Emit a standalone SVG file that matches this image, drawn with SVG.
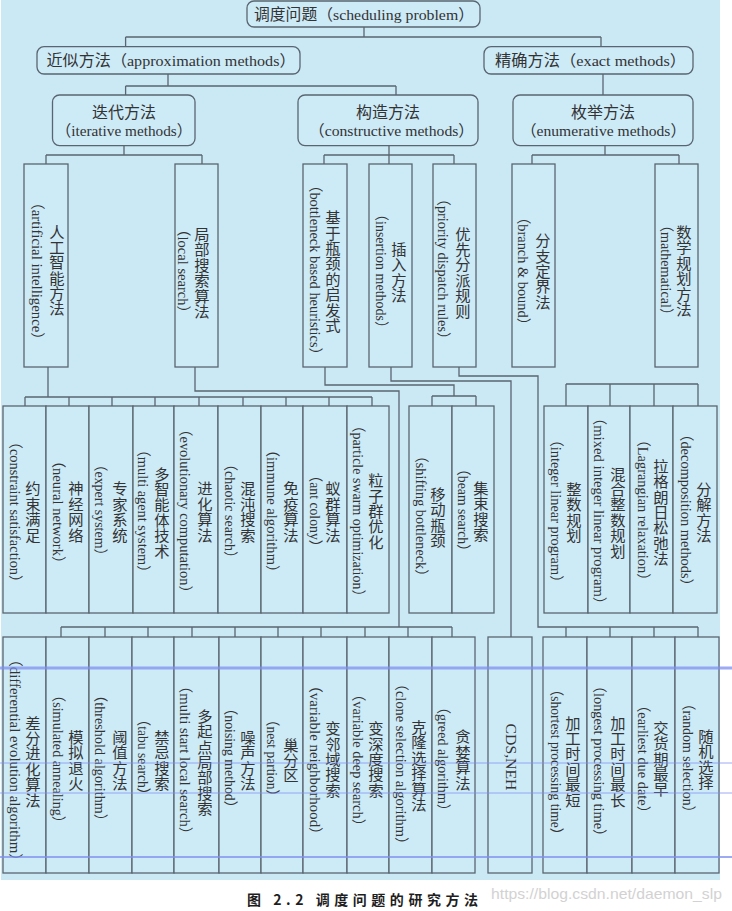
<svg xmlns="http://www.w3.org/2000/svg" width="732" height="911" viewBox="0 0 732 911">
<style>
.bg{fill:#cbe8f5}
.b{fill:#cdeaf7;stroke:#5a666f;stroke-width:1.3}
.c{fill:none;stroke:#5a666f;stroke-width:1.3}
.zh{font-family:"Noto Sans CJK SC",sans-serif;font-size:15.3px;fill:#333;text-anchor:middle;dominant-baseline:central}
.en{font-family:"Liberation Serif","Noto Sans CJK SC",serif;font-size:14.5px;fill:#333;text-anchor:middle;dominant-baseline:central}
.h{font-family:"Liberation Serif","Noto Sans CJK SC",serif;font-size:15.5px;fill:#333;dominant-baseline:central}
.hm{text-anchor:middle}
.art{stroke:#7d8ff0;fill:none;opacity:0.75}
</style>
<rect class="bg" x="1" y="0" width="719" height="880"/>

<g id="connectors">
<path class="c" d="M364,27V37M125.6,37H601M125.6,37V46.7M601,37V46.7"/>
<path class="c" d="M168,74V86M125.6,86H396M125.6,86V95M396,86V95"/>
<path class="c" d="M603,74V95"/>
<path class="c" d="M124,145.6V155M46,155H202M46,155V164M202,155V164"/>
<path class="c" d="M389,145.6V155M324,155H454M324,155V164M389,155V164M454,155V164"/>
<path class="c" d="M605,145.6V155M532,155H679M532,155V164M679,155V164"/>
<path class="c" d="M48,367V397M25,397H372M25,397V406M69,397V406M112,397V406M155,397V406M199,397V406M243,397V406M286,397V406M329,397V406M372,397V406"/>
<path class="c" d="M195,367V391H399V627"/>
<path class="c" d="M325,367V385H454V396M432,396H476M432,396V406M476,396V406"/>
<path class="c" d="M391,367V381H511V637"/>
<path class="c" d="M459,367V376H538V627H698M566,627V637M610,627V637M654,627V637M698,627V637"/>
<path class="c" d="M566,384H698M566,384V406M610,384V406M654,384V406M698,384V406"/>
<path class="c" d="M61,627H452M61,627V637M105,627V637M148,627V637M192,627V637M235,627V637M278,627V637M321,627V637M365,627V637M408,627V637M452,627V637"/>
</g>

<g id="n-root"><rect class="b" x="247" y="1" width="233" height="26" rx="7"/><text class="h" x="254" y="14" textLength="220" lengthAdjust="spacingAndGlyphs">调度问题（scheduling problem）</text></g>
<g id="n-approx"><rect class="b" x="37" y="46.7" width="263" height="27.3" rx="7"/><text class="h" x="46.5" y="60.5" textLength="249" lengthAdjust="spacingAndGlyphs">近似方法（approximation methods）</text></g>
<g id="n-exact"><rect class="b" x="484" y="46.7" width="209" height="27.3" rx="7"/><text class="h" x="495" y="60.5" textLength="191" lengthAdjust="spacingAndGlyphs">精确方法（exact methods）</text></g>
<g id="n-iter"><rect class="b" x="52.5" y="95" width="142.5" height="50.6" rx="7"/><text class="h hm" x="124" y="112" textLength="64" lengthAdjust="spacingAndGlyphs">迭代方法</text><text class="h" x="56" y="130.5" textLength="136" lengthAdjust="spacingAndGlyphs">（iterative methods）</text></g>
<g id="n-constr"><rect class="b" x="298" y="95" width="180" height="50.6" rx="7"/><text class="h hm" x="388" y="112" textLength="64" lengthAdjust="spacingAndGlyphs">构造方法</text><text class="h" x="309" y="130.5" textLength="165" lengthAdjust="spacingAndGlyphs">（constructive methods）</text></g>
<g id="n-enum"><rect class="b" x="513" y="95" width="180" height="50.6" rx="7"/><text class="h hm" x="603" y="112" textLength="64" lengthAdjust="spacingAndGlyphs">枚举方法</text><text class="h" x="521" y="130.5" textLength="165" lengthAdjust="spacingAndGlyphs">（enumerative methods）</text></g>

<!-- row 0 -->
<g id="n-ai"><rect class="b" x="24" y="164" width="44" height="203"/><text class="zh" x="57 57 57 57 57 57" y="230.7 246 261.3 276.7 292 307.3">人工智能方法</text><text class="en" transform="translate(37,271) rotate(90)" textLength="152" lengthAdjust="spacingAndGlyphs">（artificial intelligence）</text></g>
<g id="n-local"><rect class="b" x="175" y="164" width="43" height="203"/><text class="zh" x="202 202 202 202 202 202" y="233 248.4 263.8 279.2 294.6 310">局部搜索算法</text><text class="en" transform="translate(183,271) rotate(90)" textLength="98" lengthAdjust="spacingAndGlyphs">（local search）</text></g>
<g id="n-bottleneck"><rect class="b" x="303" y="164" width="44" height="203"/><text class="zh" x="333 333 333 333 333 333 333 333" y="216.1 231.5 246.9 262.3 277.7 293.1 308.5 323.9">基于瓶颈的启发式</text><text class="en" transform="translate(315,270) rotate(90)" textLength="184" lengthAdjust="spacingAndGlyphs">（bottleneck based heuristics）</text></g>
<g id="n-insert"><rect class="b" x="369" y="164" width="43" height="203"/><text class="zh" x="399 399 399 399" y="247.9 263.3 278.7 294.1">插入方法</text><text class="en" transform="translate(381,271) rotate(90)" textLength="128" lengthAdjust="spacingAndGlyphs">（insertion methods）</text></g>
<g id="n-priority"><rect class="b" x="433" y="164" width="43" height="203"/><text class="zh" x="463 463 463 463 463 463" y="232.5 247.9 263.3 278.7 294.1 309.5">优先分派规则</text><text class="en" transform="translate(443,269) rotate(90)" textLength="155" lengthAdjust="spacingAndGlyphs">（priority dispatch rules）</text></g>
<g id="n-branch"><rect class="b" x="512" y="164" width="43" height="203"/><text class="zh" x="543 543 543 543 543" y="239.2 254.6 270 285.4 300.8">分支定界法</text><text class="en" transform="translate(523,271) rotate(90)" textLength="122" lengthAdjust="spacingAndGlyphs">（branch &amp; bound）</text></g>
<g id="n-math"><rect class="b" x="655" y="164" width="43" height="203"/><text class="zh" x="684 684 684 684 684 684" y="231 246.4 261.8 277.2 292.6 308">数学规划方法</text><text class="en" transform="translate(666,270) rotate(90)" textLength="104" lengthAdjust="spacingAndGlyphs">（mathematical）</text></g>

<!-- row 1 -->
<g id="n-cs"><rect class="b" x="3" y="406" width="43" height="207"/><text class="zh" x="33 33 33 33" y="487.4 502.8 518.2 533.6">约束满足</text><text class="en" transform="translate(15,512) rotate(90)" textLength="155" lengthAdjust="spacingAndGlyphs">（constraint satisfaction）</text></g>
<g id="n-nn"><rect class="b" x="46" y="406" width="43" height="207"/><text class="zh" x="76 76 76 76" y="487.4 502.8 518.2 533.6">神经网络</text><text class="en" transform="translate(58,512) rotate(90)" textLength="117" lengthAdjust="spacingAndGlyphs">（neural network）</text></g>
<g id="n-es"><rect class="b" x="89" y="406" width="44" height="207"/><text class="zh" x="120 120 120 120" y="487.4 502.8 518.2 533.6">专家系统</text><text class="en" transform="translate(100,510) rotate(90)" textLength="105" lengthAdjust="spacingAndGlyphs">（expert system）</text></g>
<g id="n-mas"><rect class="b" x="133" y="406" width="41" height="207"/><text class="zh" x="162 162 162 162 162 162" y="472.5 487.9 503.3 518.7 534.1 549.5">多智能体技术</text><text class="en" transform="translate(143,511) rotate(90)" textLength="137" lengthAdjust="spacingAndGlyphs">（multi agent system）</text></g>
<g id="n-ec"><rect class="b" x="174" y="406" width="44" height="207"/><text class="zh" x="205 205 205 205" y="487.4 502.8 518.2 533.6">进化算法</text><text class="en" transform="translate(185,511) rotate(90)" textLength="178" lengthAdjust="spacingAndGlyphs">（evolutionary computation）</text></g>
<g id="n-chaos"><rect class="b" x="218" y="406" width="43" height="207"/><text class="zh" x="248 248 248 248" y="487.4 502.8 518.2 533.6">混沌搜索</text><text class="en" transform="translate(230,511) rotate(90)" textLength="108" lengthAdjust="spacingAndGlyphs">（chaotic search）</text></g>
<g id="n-immune"><rect class="b" x="261" y="406" width="42" height="207"/><text class="zh" x="291 291 291 291" y="487.4 502.8 518.2 533.6">免疫算法</text><text class="en" transform="translate(272,511) rotate(90)" textLength="137" lengthAdjust="spacingAndGlyphs">（immune algorithm）</text></g>
<g id="n-ant"><rect class="b" x="303" y="406" width="44" height="207"/><text class="zh" x="333 333 333 333" y="487.4 502.8 518.2 533.6">蚁群算法</text><text class="en" transform="translate(315,511) rotate(90)" textLength="85" lengthAdjust="spacingAndGlyphs">（ant colony）</text></g>
<g id="n-pso"><rect class="b" x="347" y="406" width="42" height="207"/><text class="zh" x="376 376 376 376 376" y="479.2 494.6 510 525.4 540.8">粒子群优化</text><text class="en" transform="translate(358,511) rotate(90)" textLength="185" lengthAdjust="spacingAndGlyphs">（particle swarm optimization）</text></g>
<g id="n-sb"><rect class="b" x="409" y="406" width="43" height="207"/><text class="zh" x="438 438 438 438" y="492.9 508.3 523.7 539.1">移动瓶颈</text><text class="en" transform="translate(421,516) rotate(90)" textLength="135" lengthAdjust="spacingAndGlyphs">（shifting bottleneck）</text></g>
<g id="n-beam"><rect class="b" x="452" y="406" width="42" height="207"/><text class="zh" x="481 481 481 481" y="486.9 502.3 517.7 533.1">集束搜索</text><text class="en" transform="translate(463,510) rotate(90)" textLength="96" lengthAdjust="spacingAndGlyphs">（beam search）</text></g>
<g id="n-ilp"><rect class="b" x="544" y="406" width="44" height="207"/><text class="zh" x="574 574 574 574" y="487.9 503.3 518.7 534.1">整数规划</text><text class="en" transform="translate(556,511) rotate(90)" textLength="157" lengthAdjust="spacingAndGlyphs">（integer linear program）</text></g>
<g id="n-milp"><rect class="b" x="588" y="406" width="42" height="207"/><text class="zh" x="618 618 618 618 618 618" y="472.5 487.9 503.3 518.7 534.1 549.5">混合整数规划</text><text class="en" transform="translate(599,511) rotate(90)" textLength="201" lengthAdjust="spacingAndGlyphs">（mixed integer linear program）</text></g>
<g id="n-lag"><rect class="b" x="630" y="406" width="43" height="207"/><text class="zh" x="661 661 661 661 661 661 661" y="464.8 480.2 495.6 511 526.4 541.8 557.2">拉格朗日松弛法</text><text class="en" transform="translate(643,510) rotate(90)" textLength="155" lengthAdjust="spacingAndGlyphs">（Lagrangian relaxation）</text></g>
<g id="n-dec"><rect class="b" x="673" y="406" width="44" height="207"/><text class="zh" x="704 704 704 704" y="487.9 503.3 518.7 534.1">分解方法</text><text class="en" transform="translate(686,510) rotate(90)" textLength="166" lengthAdjust="spacingAndGlyphs">（decomposition methods）</text></g>

<!-- row 2 -->
<g id="n-de"><rect class="b" x="3" y="637" width="43" height="236"/><text class="zh" x="33 33 33 33 33 33" y="721.5 736.9 752.3 767.7 783.1 798.5">差分进化算法</text><text class="en" transform="translate(15,760) rotate(90)" textLength="216" lengthAdjust="spacingAndGlyphs">（differential evolution algorithm）</text></g>
<g id="n-sa"><rect class="b" x="46" y="637" width="43" height="236"/><text class="zh" x="76 76 76 76" y="735.9 751.3 766.7 782.1">模拟退火</text><text class="en" transform="translate(58,759) rotate(90)" textLength="142" lengthAdjust="spacingAndGlyphs">（simulated annealing）</text></g>
<g id="n-ta"><rect class="b" x="89" y="637" width="43" height="236"/><text class="zh" x="120 120 120 120" y="735.9 751.3 766.7 782.1">阈值方法</text><text class="en" transform="translate(100,758) rotate(90)" textLength="140" lengthAdjust="spacingAndGlyphs">（threshold algorithm）</text></g>
<g id="n-tabu"><rect class="b" x="132" y="637" width="42" height="236"/><text class="zh" x="162 162 162 162" y="735.9 751.3 766.7 782.1">禁忌搜索</text><text class="en" transform="translate(143,757) rotate(90)" textLength="89" lengthAdjust="spacingAndGlyphs">（tabu search）</text></g>
<g id="n-msls"><rect class="b" x="174" y="637" width="45" height="236"/><text class="zh" x="205 205 205 205 205 205 205" y="714.8 730.2 745.6 761 776.4 791.8 807.2">多起点局部搜索</text><text class="en" transform="translate(185,760) rotate(90)" textLength="163" lengthAdjust="spacingAndGlyphs">（multi start local search）</text></g>
<g id="n-noise"><rect class="b" x="219" y="637" width="42" height="236"/><text class="zh" x="248 248 248 248" y="735.9 751.3 766.7 782.1">噪声方法</text><text class="en" transform="translate(230,758) rotate(90)" textLength="113" lengthAdjust="spacingAndGlyphs">（noising method）</text></g>
<g id="n-nest"><rect class="b" x="261" y="637" width="42" height="236"/><text class="zh" x="291 291 291" y="743.6 759 774.4">巢分区</text><text class="en" transform="translate(272,758) rotate(90)" textLength="90" lengthAdjust="spacingAndGlyphs">（nest partion）</text></g>
<g id="n-vns"><rect class="b" x="303" y="637" width="44" height="236"/><text class="zh" x="333 333 333 333 333" y="727.2 742.6 758 773.4 788.8">变邻域搜索</text><text class="en" transform="translate(315,760) rotate(90)" textLength="164" lengthAdjust="spacingAndGlyphs">（variable neighborhood）</text></g>
<g id="n-vds"><rect class="b" x="347" y="637" width="42" height="236"/><text class="zh" x="376 376 376 376 376" y="727.2 742.6 758 773.4 788.8">变深度搜索</text><text class="en" transform="translate(358,760) rotate(90)" textLength="146" lengthAdjust="spacingAndGlyphs">（variable deep search）</text></g>
<g id="n-clone"><rect class="b" x="389" y="637" width="43" height="236"/><text class="zh" x="419 419 419 419 419 419" y="726 741.4 756.8 772.2 787.6 803">克隆选择算法</text><text class="en" transform="translate(401,764) rotate(90)" textLength="175" lengthAdjust="spacingAndGlyphs">（clone selection algorithm）</text></g>
<g id="n-greed"><rect class="b" x="432" y="637" width="43" height="236"/><text class="zh" x="463 463 463 463" y="735.4 750.8 766.2 781.6">贪婪算法</text><text class="en" transform="translate(443,759) rotate(90)" textLength="118" lengthAdjust="spacingAndGlyphs">（greed algorithm）</text></g>
<g id="n-cds"><rect class="b" x="488" y="637" width="44" height="236"/><text class="en" style="font-size:15.5px" transform="translate(511,757) rotate(90)" textLength="67" lengthAdjust="spacingAndGlyphs">CDS,NEH</text></g>
<g id="n-spt"><rect class="b" x="543" y="637" width="44" height="236"/><text class="zh" x="573 573 573 573 573 573" y="721.5 736.9 752.3 767.7 783.1 798.5">加工时间最短</text><text class="en" transform="translate(556,762) rotate(90)" textLength="159" lengthAdjust="spacingAndGlyphs">（shortest processing time）</text></g>
<g id="n-lpt"><rect class="b" x="587" y="637" width="45" height="236"/><text class="zh" x="618 618 618 618 618 618" y="721.5 736.9 752.3 767.7 783.1 798.5">加工时间最长</text><text class="en" transform="translate(599,761) rotate(90)" textLength="165" lengthAdjust="spacingAndGlyphs">（longest processing time）</text></g>
<g id="n-edd"><rect class="b" x="632" y="637" width="43" height="236"/><text class="zh" x="661 661 661 661 661" y="726.7 742.1 757.5 772.9 788.3">交货期最早</text><text class="en" transform="translate(643,759) rotate(90)" textLength="122" lengthAdjust="spacingAndGlyphs">（earliest due date）</text></g>
<g id="n-rand"><rect class="b" x="675" y="637" width="44" height="236"/><text class="zh" x="706 706 706 706" y="734.9 750.3 765.7 781.1">随机选择</text><text class="en" transform="translate(688,758) rotate(90)" textLength="123" lengthAdjust="spacingAndGlyphs">（random selection）</text></g>

<g id="overlay-lines">
<line class="art" x1="0" y1="668" x2="732" y2="668" stroke-width="3"/>
<line class="art" x1="0" y1="763" x2="732" y2="763" stroke-width="1"/>
<line class="art" x1="0" y1="793" x2="732" y2="793" stroke-width="1"/>
<line class="art" x1="0" y1="857" x2="732" y2="857" stroke-width="2"/>
</g>

<text x="247" y="899" style="font-family:'Noto Sans CJK SC',sans-serif;font-size:14px;font-weight:bold;fill:#1e1e1e;dominant-baseline:central" textLength="231" lengthAdjust="spacing">图 2.2  调度问题的研究方法</text>
<text x="491" y="893" style="font-family:'Liberation Sans',sans-serif;font-size:15px;fill:#d2d2d2;dominant-baseline:central" textLength="231" lengthAdjust="spacingAndGlyphs">https://blog.csdn.net/daemon_slp</text>
</svg>
